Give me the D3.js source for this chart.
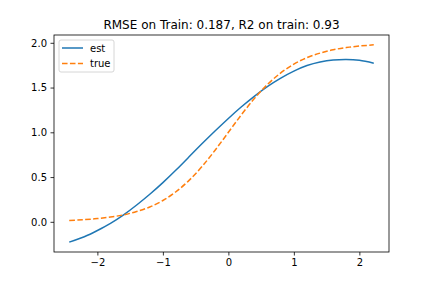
<!DOCTYPE html>
<html>
<head>
<meta charset="utf-8">
<script src="https://cdn.jsdelivr.net/npm/d3@7"></script>
<style>
  body { margin: 0; background: #fff; }
  text { font-family: "DejaVu Sans", sans-serif; fill: #000; }
</style>
</head>
<body>
<div id="chart"></div>
<script>
// data
const xs = [-2.43, -2.2, -2.0, -1.8, -1.6, -1.4, -1.2, -1.0, -0.8, -0.6, -0.4, -0.2,
            0.0, 0.2, 0.4, 0.6, 0.8, 1.0, 1.2, 1.4, 1.6, 1.8, 2.0, 2.22];
const est = [-0.227, -0.167, -0.097, -0.017, 0.078, 0.188, 0.308, 0.438, 0.578, 0.726, 0.874, 1.017,
             1.155, 1.285, 1.405, 1.513, 1.606, 1.684, 1.746, 1.786, 1.808, 1.814, 1.804, 1.772];
const truth = [0.015, 0.024, 0.036, 0.053, 0.078, 0.115, 0.166, 0.238, 0.336, 0.463, 0.62, 0.803,
               1.0, 1.197, 1.38, 1.537, 1.664, 1.762, 1.834, 1.885, 1.922, 1.947, 1.964, 1.977];
const xTicks = [-2, -1, 0, 1, 2];
const yTicks = [0.0, 0.5, 1.0, 1.5, 2.0];
const title = "RMSE on Train: 0.187, R2 on train: 0.93";
const seriesNames = ["est", "true"];

// dimensions
const W = 432, H = 288;
const margin = {top: 35, right: 43, bottom: 36, left: 54};
const width = W - margin.left - margin.right;
const height = H - margin.top - margin.bottom;

// scales, with matplotlib-like 5% padding
const pad = (ext) => { const s = ext[1] - ext[0]; return [ext[0] - s * 0.05, ext[1] + s * 0.05]; };
const x = d3.scaleLinear().domain(pad(d3.extent(xs))).range([0, width]);
const y = d3.scaleLinear().domain(pad(d3.extent([...est, ...truth]))).range([height, 0]);

const svg = d3.select("#chart").append("svg")
    .attr("width", W).attr("height", H)
  .append("g")
    .attr("transform", `translate(${margin.left},${margin.top})`);

// axes
const xAxis = svg.append("g")
    .attr("transform", `translate(0,${height})`)
    .call(d3.axisBottom(x).tickValues(xTicks).tickFormat(d3.format("d")).tickSize(3.5).tickPadding(3.5));
const yAxis = svg.append("g")
    .call(d3.axisLeft(y).tickValues(yTicks).tickFormat(d3.format(".1f")).tickSize(3.5).tickPadding(3.5));
[xAxis, yAxis].forEach(a => {
  a.select(".domain").remove();
  a.selectAll(".tick line").attr("stroke", "#000").attr("stroke-width", 0.8);
  a.selectAll(".tick text").style("font-size", "10px").attr("fill", "#000");
});

// lines
const line = (ys) => d3.line().x((d, i) => x(xs[i])).y(d => y(d)).curve(d3.curveNatural)(ys);

svg.append("path")
    .attr("d", line(est))
    .attr("fill", "none")
    .attr("stroke", "#1f77b4")
    .attr("stroke-width", 1.5);

svg.append("path")
    .attr("d", line(truth))
    .attr("fill", "none")
    .attr("stroke", "#ff7f0e")
    .attr("stroke-width", 1.5)
    .attr("stroke-dasharray", "5.55,2.4");

// frame
svg.append("rect")
    .attr("width", width).attr("height", height)
    .attr("fill", "none").attr("stroke", "#000").attr("stroke-width", 0.8);

// title
svg.append("text")
    .attr("x", width / 2).attr("y", -6)
    .attr("text-anchor", "middle")
    .style("font-size", "12px")
    .text(title);

// legend
const lg = svg.append("g").attr("transform", "translate(5,5)");
lg.append("rect")
    .attr("width", 55).attr("height", 32).attr("rx", 2)
    .attr("fill", "#fff").attr("fill-opacity", 0.8)
    .attr("stroke", "#ccc").attr("stroke-width", 0.8);
const colors = ["#1f77b4", "#ff7f0e"];
seriesNames.forEach((name, i) => {
  const yy = 8 + i * 15.5;
  lg.append("line")
      .attr("x1", 3).attr("x2", 24).attr("y1", yy).attr("y2", yy)
      .attr("stroke", colors[i]).attr("stroke-width", 1.5)
      .attr("stroke-dasharray", i === 1 ? "5.55,2.4" : null);
  lg.append("text")
      .attr("x", 31).attr("y", yy + 3.5)
      .style("font-size", "10px")
      .text(name);
});
</script>
</body>
</html>
